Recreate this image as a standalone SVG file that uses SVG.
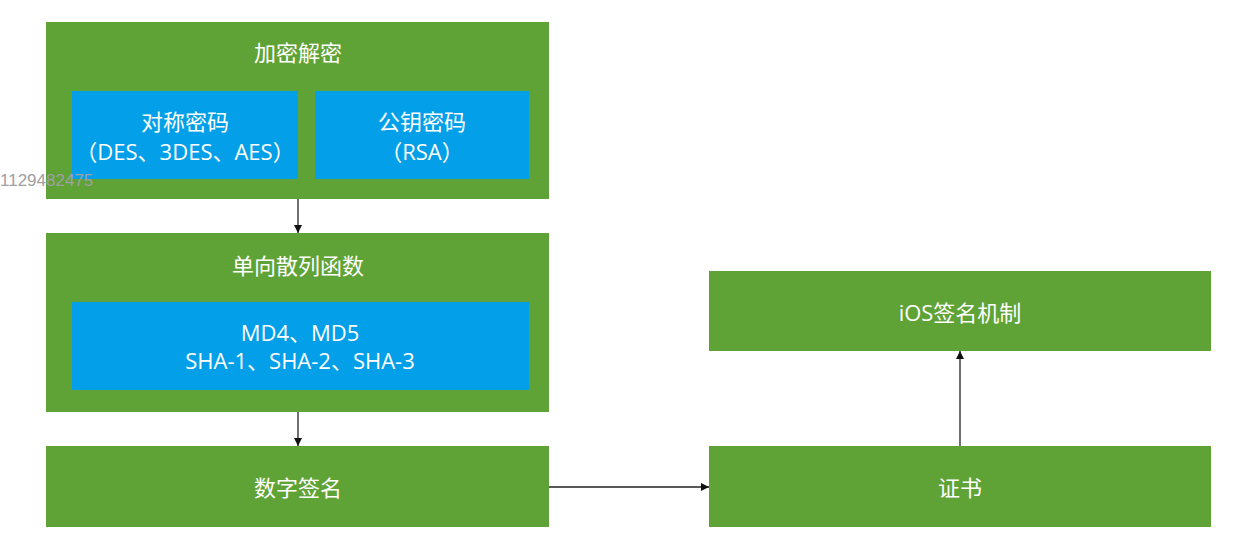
<svg xmlns="http://www.w3.org/2000/svg" width="1240" height="557" viewBox="0 0 1240 557">
<defs>
<style>
.g{fill:#5fa336;}
.b{fill:#03a0e9;}
.t{fill:#ffffff;font-family:"Open Sans","Noto Sans CJK SC",sans-serif;font-size:22px;text-anchor:middle;dominant-baseline:central;}
.c{stroke:#222;stroke-width:1.3;fill:none;marker-end:url(#ah);}
.w{fill:#a0a0a0;font-family:"Liberation Sans",sans-serif;font-size:17px;}
</style>
<marker id="ah" viewBox="0 0 10 10" refX="10" refY="5" markerWidth="9" markerHeight="8" markerUnits="userSpaceOnUse" orient="auto">
<path d="M0,0 L10,5 L0,10 z" fill="#111"/>
</marker>
</defs>
<rect width="1240" height="557" fill="#ffffff"/>
<g id="crypto">
<rect class="g" x="46" y="22" width="503" height="177"/>
<text class="t" x="298" y="52">加密解密</text>
<g id="symmetric">
<rect class="b" x="72" y="91" width="226" height="88"/>
<text class="t" x="185" y="121">对称密码</text>
<text class="t" x="185" y="151">（DES、3DES、AES）</text>
</g>
<g id="publickey">
<rect class="b" x="315" y="91" width="214" height="88"/>
<text class="t" x="422" y="121">公钥密码</text>
<text class="t" x="422" y="151">（RSA）</text>
</g>
</g>
<g id="hash">
<rect class="g" x="46" y="233" width="503" height="179"/>
<text class="t" x="298" y="265">单向散列函数</text>
<g id="hashalgs">
<rect class="b" x="72" y="302" width="457" height="88"/>
<text class="t" x="300" y="332">MD4、MD5</text>
<text class="t" x="300" y="360">SHA-1、SHA-2、SHA-3</text>
</g>
</g>
<g id="signature">
<rect class="g" x="46" y="446" width="503" height="81"/>
<text class="t" x="298" y="487">数字签名</text>
</g>
<g id="cert">
<rect class="g" x="709" y="446" width="502" height="81"/>
<text class="t" x="960" y="487">证书</text>
</g>
<g id="ios">
<rect class="g" x="709" y="271" width="502" height="80"/>
<text class="t" x="960" y="312">iOS签名机制</text>
</g>
<g id="connectors">
<path class="c" d="M298,199 V233"/>
<path class="c" d="M298,412 V446"/>
<path class="c" d="M549,487 H709"/>
<path class="c" d="M960,446 V351"/>
</g>
<text class="w" x="0" y="186">1129482475</text>
</svg>
